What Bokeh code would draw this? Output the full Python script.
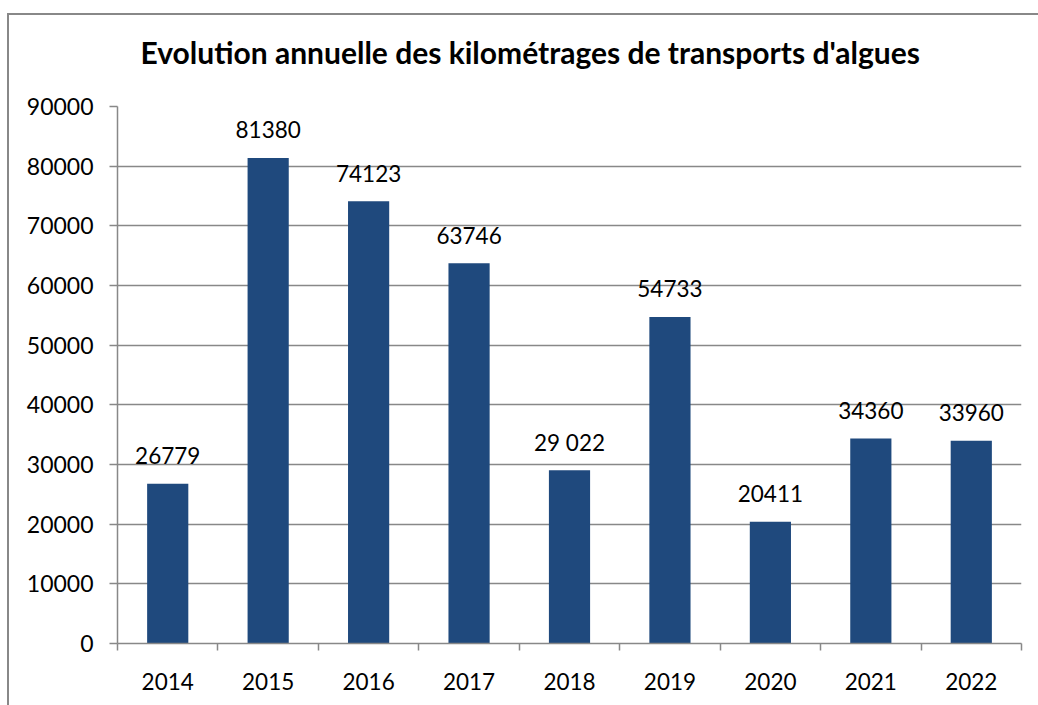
from bokeh.plotting import figure
from bokeh.models import Range1d, FixedTicker, ColumnDataSource, PrintfTickFormatter, Title
from bokeh.core.properties import value
from bokeh.embed import file_html
from bokeh.resources import INLINE

years = ["2014", "2015", "2016", "2017", "2018", "2019", "2020", "2021", "2022"]
km = [26779, 81380, 74123, 63746, 29022, 54733, 20411, 34360, 33960]
km_labels = ["26779", "81380", "74123", "63746", "29 022", "54733", "20411", "34360", "33960"]
y_ticks = [0, 10000, 20000, 30000, 40000, 50000, 60000, 70000, 80000, 90000]
title_text = "Evolution annuelle des kilométrages de transports d'algues"

FONT = "Lato"
GRAY = "#888888"
BAR = "#1F497D"

xs = [i + 0.5 for i in range(len(years))]
src = ColumnDataSource(dict(x=xs, top=km, lab=km_labels))

p = figure(width=1040, height=700, output_backend="svg", toolbar_location=None,
           x_range=Range1d(0, len(years)), y_range=Range1d(0, 90000),
           min_border_left=108, min_border_right=28, min_border_top=91, min_border_bottom=72,
           title=title_text)

p.styles = {"margin-left": "7px", "margin-top": "13px",
            "border-left": "2px solid #888888", "border-top": "2px solid #888888"}

# spacer between title and plot area
p.add_layout(Title(text=" ", text_font_size="12px", standoff=21), "above")

p.title.text_font = FONT
p.title.text_font_size = "30px"
p.title.text_font_style = "bold"
p.title.align = "left"
p.title.offset = 23
p.title.standoff = 0
p.title.text_color = "black"

p.outline_line_color = None
p.background_fill_color = "#ffffff"
p.border_fill_color = "#ffffff"

p.vbar(x="x", top="top", width=0.41, source=src, fill_color=BAR, line_color=None)
p.text(x="x", y="top", text="lab", source=src, text_font=value(FONT), text_font_size="22.5px",
       text_align="center", text_baseline="alphabetic", y_offset=-28, text_color="black")

# grid
p.xgrid.visible = False
p.ygrid.ticker = FixedTicker(ticks=y_ticks)
p.ygrid.grid_line_color = GRAY
p.ygrid.grid_line_width = 1.5

# y axis
ya = p.yaxis[0]
ya.ticker = FixedTicker(ticks=y_ticks)
ya.formatter = PrintfTickFormatter(format="%d")
ya.axis_line_color = GRAY
ya.axis_line_width = 1.5
ya.major_tick_line_color = GRAY
ya.major_tick_line_width = 1.5
ya.major_tick_in = 0
ya.major_tick_out = 8
ya.minor_tick_line_color = None
ya.major_label_text_font = FONT
ya.major_label_text_font_size = "23px"
ya.major_label_text_color = "black"
ya.major_label_standoff = 16

# x axis
xa = p.xaxis[0]
xa.ticker = FixedTicker(ticks=xs, minor_ticks=list(range(len(years) + 1)))
xa.major_label_overrides = {x: y for x, y in zip(xs, years)}
xa.axis_line_color = GRAY
xa.axis_line_width = 1.5
xa.major_tick_line_color = None
xa.major_tick_in = 0
xa.major_tick_out = 0
xa.minor_tick_line_color = GRAY
xa.minor_tick_line_width = 1.5
xa.minor_tick_in = 0
xa.minor_tick_out = 7
xa.major_label_text_font = FONT
xa.major_label_text_font_size = "22.5px"
xa.major_label_text_color = "black"
xa.major_label_standoff = 22

html = file_html(p, INLINE)
html = html.replace("<body>", '<body style="margin:0;overflow:hidden">', 1)
open("out.html", "w").write(html)
